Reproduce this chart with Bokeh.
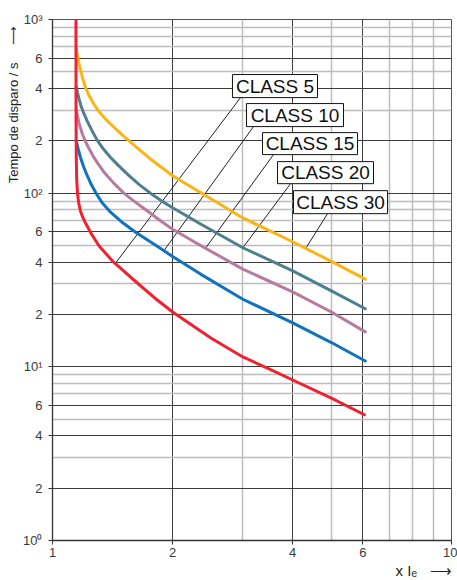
from bokeh.plotting import figure
from bokeh.models import FixedTicker, Range1d, Title
from bokeh.core.properties import value
from bokeh.embed import file_html
from bokeh.resources import INLINE

# ---- data ----
x_class5 = [1.145, 1.1455, 1.147, 1.15, 1.155, 1.163, 1.175, 1.19, 1.205, 1.245, 1.306, 1.36, 1.416,
            1.5, 1.615, 1.8, 2.0, 2.5, 3.0, 3.5, 4.0, 5.0, 6.05]
y_class5 = [1000, 300, 160, 120, 100, 88, 79, 73, 68.5, 59.5, 50, 45, 40.5,
            36, 31, 25, 20.7, 14.6, 11.4, 9.7, 8.4, 6.6, 5.3]

x_class10 = [1.147, 1.16, 1.175, 1.198, 1.222, 1.25, 1.287, 1.33, 1.4, 1.5, 1.615, 1.83, 2.0,
             2.35, 3.0, 4.0, 5.0, 6.08]
y_class10 = [200, 179, 160.5, 141, 126, 112.5, 99.6, 88.5, 77.5, 67.5, 59.5, 49.5, 43.2,
             34.2, 24.5, 17.9, 13.8, 10.8]

x_class15 = [1.147, 1.155, 1.165, 1.175, 1.19, 1.21, 1.235, 1.265, 1.3, 1.35, 1.42, 1.509, 1.6,
             1.71, 1.846, 2.0, 2.35, 3.0, 4.0, 5.0, 6.08]
y_class15 = [300, 278, 255, 238, 217, 198, 180, 163, 148, 131, 115, 100, 90,
             80.5, 70.5, 62, 50, 36.5, 27, 20.7, 15.9]

x_class20 = [1.147, 1.155, 1.165, 1.178, 1.195, 1.222, 1.255, 1.294, 1.34, 1.4, 1.46, 1.55, 1.65,
             1.76, 1.88, 2.0, 2.35, 3.0, 4.0, 5.0, 6.08]
y_class20 = [410, 380, 350, 320, 292, 260, 230, 202, 180, 160, 145, 127, 112,
             100, 90, 82.5, 66.5, 48.5, 35.7, 27.4, 21.6]

x_class30 = [1.147, 1.152, 1.157, 1.165, 1.175, 1.19, 1.21, 1.235, 1.265, 1.306, 1.36, 1.43, 1.5,
             1.6, 1.75, 2.0, 2.35, 3.0, 4.0, 5.0, 6.08]
y_class30 = [680, 640, 605, 560, 515, 460, 405, 365, 330, 296, 266, 238, 215,
             189, 159, 126, 101, 72, 52.5, 40.5, 32]

class_names = ["CLASS 5", "CLASS 10", "CLASS 15", "CLASS 20", "CLASS 30"]
class_colors = ["#ee2231", "#1073bd", "#b67b9e", "#4e7f8e", "#fbb415"]

x_ticks = [1, 2, 4, 6, 10]
x_tick_labels = ["1", "2", "4", "6", "10"]
x_minor = [3, 5, 7, 8, 9]
y_ticks = [1, 2, 4, 6, 10, 20, 40, 60, 100, 200, 400, 600, 1000]
y_tick_labels = ["10\u2070", "2", "4", "6", "10\u00b9", "2", "4", "6", "10\u00b2", "2", "4", "6", "10\u00b3"]
y_minor = [3, 5, 7, 8, 9, 30, 50, 70, 80, 90, 300, 500, 700, 800, 900]

# callout boxes (data-space extents) and leader lines (box edge -> curve)
box_left = [2.825, 3.063, 3.36, 3.664, 4.018]
box_right = [4.615, 5.362, 5.813, 6.376, 6.914]
box_top = [482, 328, 223.2, 151.9, 103.4]
box_bottom = [355, 241.7, 166.7, 113.4, 76.2]
lead_x0 = [2.96, 3.19, 3.58, 3.95, 4.89]
lead_y0 = [355, 241.7, 166.7, 113.4, 76.2]
lead_x1 = [1.438, 1.90, 2.42, 3.0, 4.31]
lead_y1 = [39.5, 46.5, 48.3, 48.5, 48.0]

FONT = "Liberation Sans"
NB = "\u00a0"

p = figure(width=457, height=580, x_axis_type="log", y_axis_type="log",
           x_range=Range1d(1, 10), y_range=Range1d(1, 1000),
           output_backend="svg", toolbar_location=None,
           min_border_left=52, min_border_right=6, min_border_top=19, min_border_bottom=40)
p.background_fill_color = "white"
p.border_fill_color = "white"
p.outline_line_color = "#555555"
p.outline_line_width = 1

for ax, ticks, minors, labels in ((p.xaxis[0], x_ticks, x_minor, x_tick_labels),
                                  (p.yaxis[0], y_ticks, y_minor, y_tick_labels)):
    ax.ticker = FixedTicker(ticks=ticks, minor_ticks=minors)
    ax.major_label_overrides = {float(t): l for t, l in zip(ticks, labels)}
    ax.minor_tick_line_color = None
    ax.major_tick_in = 0
    ax.major_tick_out = 4
    ax.major_tick_line_color = "#333333"
    ax.axis_line_color = "#333333"
    ax.axis_line_width = 1.3
    ax.major_label_text_font = FONT
    ax.major_label_text_font_size = "13px"
    ax.major_label_text_color = "#3a3a3a"
p.xaxis.major_label_standoff = 3
p.yaxis.major_label_standoff = 6

for g in (p.xgrid[0], p.ygrid[0]):
    g.grid_line_color = "#3c3c3c"
    g.grid_line_width = 1
    g.minor_grid_line_color = "#bdbdbd"
    g.minor_grid_line_width = 1.5

# axis titles
p.add_layout(Title(text="Tempo de disparo / s" + NB * 5 + "\u27f6", align="right", text_font=FONT,
                   text_font_size="13px", text_font_style="normal", text_color="#222222",
                   standoff=0, offset=6), "left")
p.add_layout(Title(text="x I\u2091" + NB * 3 + "\u27f6", align="right", text_font=FONT,
                   text_font_size="15px", text_font_style="normal", text_color="#222222",
                   standoff=0, offset=0), "below")

# leader lines
p.segment(x0=lead_x0, y0=lead_y0, x1=lead_x1, y1=lead_y1, line_color="#222222", line_width=1)

# curves (red on top)
curves = [(x_class30, y_class30, class_colors[4]),
          (x_class20, y_class20, class_colors[3]),
          (x_class15, y_class15, class_colors[2]),
          (x_class10, y_class10, class_colors[1]),
          (x_class5, y_class5, class_colors[0])]
for xs, ys, c in curves:
    p.line(xs, ys, line_color=c, line_width=3, line_join="round", line_cap="round")

# callout boxes
p.quad(left=box_left, right=box_right, top=box_top, bottom=box_bottom,
       fill_color="white", line_color="#111111", line_width=1)
text_x = [(a * b) ** 0.5 for a, b in zip(box_left, box_right)]
text_y = [(a * b) ** 0.5 for a, b in zip(box_top, box_bottom)]
p.text(x=text_x, y=text_y, text=class_names, text_align="center", text_baseline="middle",
       text_font=value(FONT), text_font_size=value("19px"), text_color="#111111")

open("out.html", "w").write(file_html(p, INLINE))
